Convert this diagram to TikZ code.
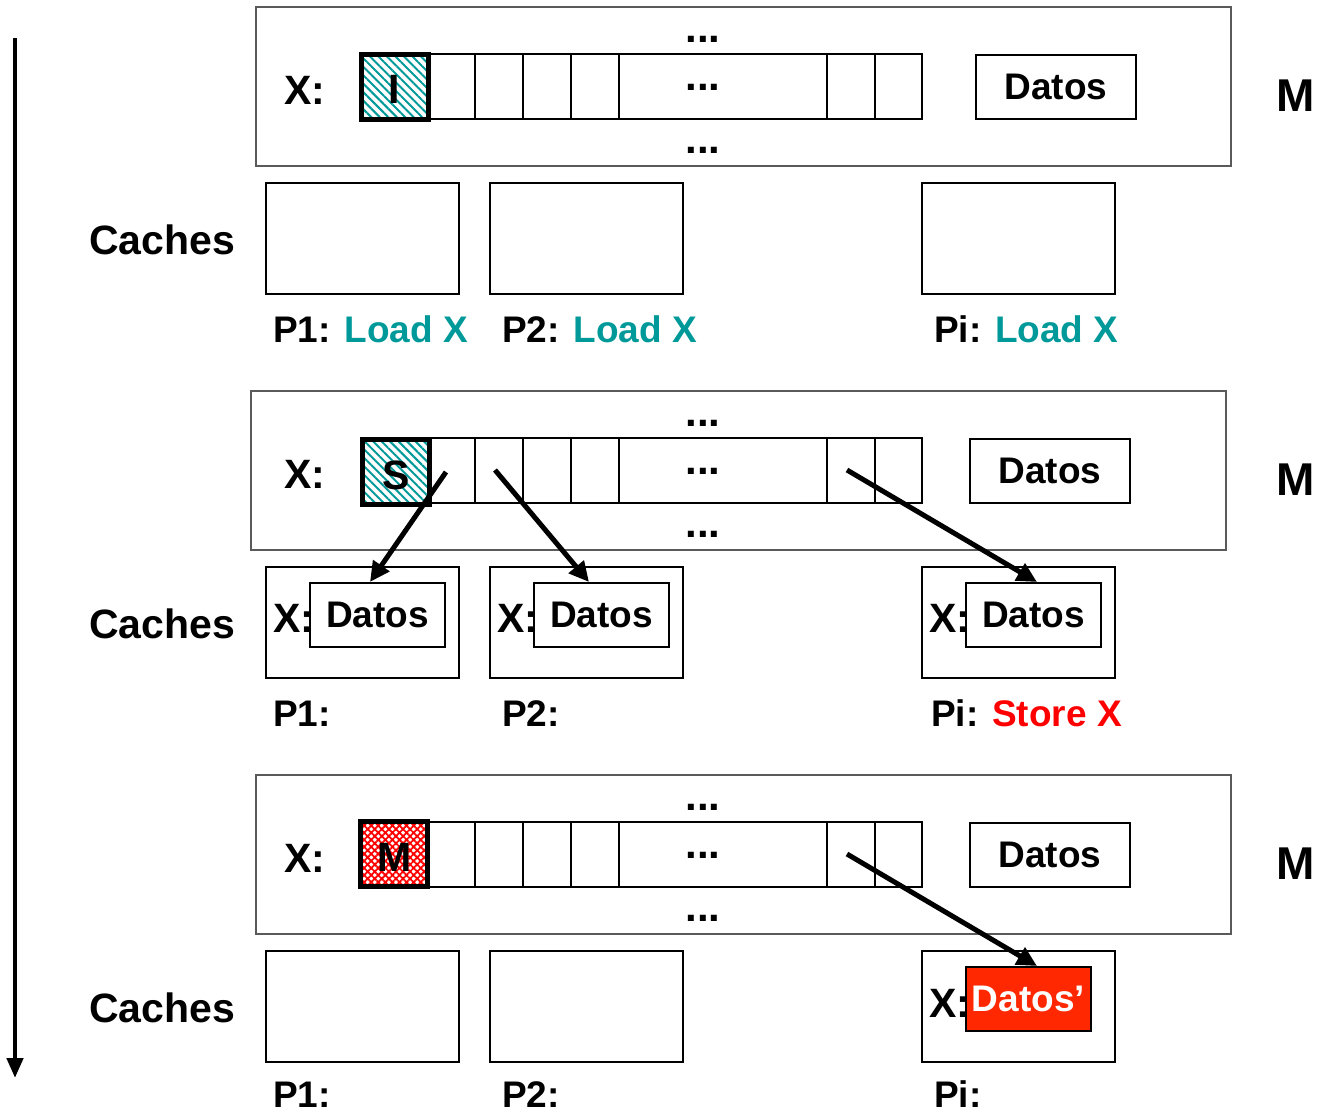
\documentclass[tikz,border=0pt]{standalone}
\usepackage{fontspec}
\setmainfont{Liberation Sans}
\usetikzlibrary{arrows.meta,patterns.meta}
\definecolor{tealtxt}{RGB}{0,153,153}
\definecolor{redtxt}{RGB}{255,0,0}
\definecolor{datosred}{RGB}{255,40,0}
\definecolor{membord}{RGB}{90,90,90}
\begin{document}
\begin{tikzpicture}[x=1pt,y=-1pt,
  txt/.style={font=\fontsize{37}{40}\selectfont\bfseries, inner sep=0pt},
  xtxt/.style={font=\fontsize{41}{44}\selectfont\bfseries, inner sep=0pt},
  dottxt/.style={font=\fontsize{42}{44}\selectfont\bfseries, inner sep=0pt},
  bigtxt/.style={font=\fontsize{41}{44}\selectfont\bfseries, inner sep=0pt},
  mtxt/.style={font=\fontsize{46}{48}\selectfont\bfseries, inner sep=0pt},
  membox/.style={draw=membord, line width=2pt, inner sep=0pt},
  cell/.style={draw, line width=2pt, inner sep=0pt, minimum height=65pt, anchor=north west},
  statecell/.style={draw, line width=5pt, inner sep=0pt, minimum width=67pt, minimum height=65pt, anchor=north west},
  cachebox/.style={draw, line width=2pt, inner sep=0pt, minimum width=193pt, minimum height=111pt, anchor=north west},
  datbox/.style={draw, line width=2pt, fill=white, inner sep=0pt, minimum width=160pt, minimum height=64pt, anchor=north west, font=\fontsize{37}{40}\selectfont\bfseries},
  idatbox/.style={draw, line width=2pt, fill=white, inner sep=0pt, minimum width=135pt, minimum height=64pt, anchor=north west, font=\fontsize{37}{40}\selectfont\bfseries},
  bigarrow/.style={line width=5pt, -{Triangle[length=20pt,width=19pt]}},
  timearrow/.style={line width=4.5pt, -{Triangle[length=20pt,width=16pt]}},
]
\useasboundingbox (0,0) rectangle (1317,1112);

% time arrow
\coordinate (ta) at (15,38);
\coordinate (tb) at (15,1078);
\draw[timearrow] (ta) -- (tb);

\foreach \k/\mx/\dx in {1/255/975, 2/250/969, 3/255/969}{
  \pgfmathsetmacro{\yo}{384*(\k-1)}
  % memory box
  \node[membox, minimum width=975pt, minimum height=159pt, anchor=north west] (mem\k) at (\mx,6+\yo) {};
  % cells
  \node[cell, minimum width=47pt] (c1\k) at (427,53+\yo) {};
  \node[cell, minimum width=48pt] (c2\k) at (474,53+\yo) {};
  \node[cell, minimum width=48pt] (c3\k) at (522,53+\yo) {};
  \node[cell, minimum width=48pt] (c4\k) at (570,53+\yo) {};
  \node[cell, minimum width=208pt] (cw\k) at (618,53+\yo) {};
  \node[cell, minimum width=48pt] (c5\k) at (826,53+\yo) {};
  \node[cell, minimum width=47pt] (c6\k) at (874,53+\yo) {};
  % dots
  \node[dottxt] (dt\k) at (703,39+\yo) {...};
  \node[dottxt] (dm\k) at (703,87+\yo) {...};
  \node[dottxt] (db\k) at (703,150+\yo) {...};
  % labels
  \node[xtxt] (x\k) at (305,90+\yo) {X:};
  \node[datbox] (dat\k) at (\dx,54+\yo) {Datos};
  \node[mtxt] (m\k) at (1296,96+\yo) {M};
  \node[bigtxt] (ca\k) at (162,240+\yo) {Caches};
  % caches
  \node[cachebox] (p1c\k) at (265,182+\yo) {};
  \node[cachebox] (p2c\k) at (489,182+\yo) {};
  \node[cachebox] (pic\k) at (921,182+\yo) {};
}

% state cells
\node[statecell, pattern={Lines[angle=-45,distance=6pt,line width=2pt]}, pattern color=tealtxt] (s1) at (360,53) {};
\node[xtxt] (s1t) at ([yshift=-3pt]s1.center) {I};
\node[statecell, pattern={Lines[angle=-45,distance=6pt,line width=2pt]}, pattern color=tealtxt] (s2) at (360,437) {};
\node[xtxt] (s2t) at ([yshift=-3pt]s2.center) {S};
\node[statecell, pattern={Hatch[angle=45,distance=5pt,line width=1.8pt]}, pattern color=redtxt] (s3) at (360,821) {};
\node[xtxt] (s3t) at ([yshift=-3pt]s3.center) {M};

% panel 1 labels
\node[txt, anchor=base west] (l11) at (273,342) {P1: \textcolor{tealtxt}{Load X}};
\node[txt, anchor=base west] (l12) at (502,342) {P2: \textcolor{tealtxt}{Load X}};
\node[txt, anchor=base west] (l1i) at (934,342) {Pi: \textcolor{tealtxt}{Load X}};

% panel 2 cache contents
\node[xtxt] (xa2) at (294,618) {X:};
\node[idatbox] (da2) at (309,582) {Datos};
\node[xtxt] (xb2) at (518,618) {X:};
\node[idatbox] (db2) at (533,582) {Datos};
\node[xtxt] (xc2) at (950,618) {X:};
\node[idatbox] (dc2) at (965,582) {Datos};
\node[txt, anchor=base west] (l21) at (273,726) {P1:};
\node[txt, anchor=base west] (l22) at (502,726) {P2:};
\node[txt, anchor=base west] (l2i) at (931,726) {Pi: \textcolor{redtxt}{Store X}};

% panel 3 cache contents
\node[xtxt] (xc3) at (950,1003) {X:};
\node[draw, line width=2pt, fill=datosred, text=white, inner sep=0pt, minimum width=125pt, minimum height=64pt, anchor=north west, font=\fontsize{37}{40}\selectfont\bfseries] (dc3) at (965,966) {Datos’};
\node[txt, anchor=base west] (l31) at (273,1107) {P1:};
\node[txt, anchor=base west] (l32) at (502,1107) {P2:};
\node[txt, anchor=base west] (l3i) at (934,1107) {Pi:};

% arrows
\coordinate (a1s) at (446,472);
\coordinate (a1e) at (370,582);
\coordinate (a2s) at (495,470);
\coordinate (a2e) at (589,582);
\coordinate (a3s) at (847,470);
\coordinate (a3e) at (1037,582);
\coordinate (a4s) at (847,854);
\coordinate (a4e) at (1037,966);
\draw[bigarrow] (a1s) -- (a1e);
\draw[bigarrow] (a2s) -- (a2e);
\draw[bigarrow] (a3s) -- (a3e);
\draw[bigarrow] (a4s) -- (a4e);
\end{tikzpicture}
\end{document}
